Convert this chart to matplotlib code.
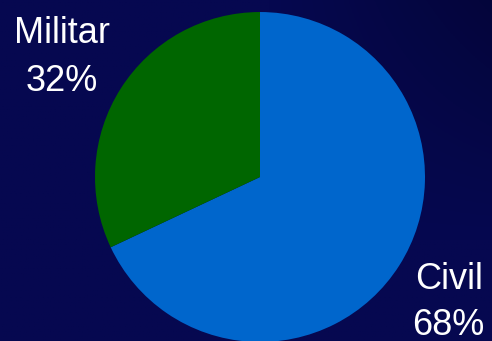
import numpy as np
import matplotlib.pyplot as plt

labels = ["Civil", "Militar"]
shares = [68, 32]
colors = ["#0066CC", "#006600"]

fig = plt.figure(figsize=(4.92, 3.41), dpi=100)

# background: dark navy with a slightly darker upper-right corner
bg = fig.add_axes([0, 0, 1, 1])
gx, gy = np.meshgrid(np.linspace(0, 1, 200), np.linspace(0, 1, 200))
shade = np.clip((gx - 0.55) * 1.6, 0, 1) * np.clip((gy - 0.3) * 1.4, 0, 1)
base = np.array([6, 8, 80]) / 255
dark = np.array([3, 4, 50]) / 255
img = base[None, None, :] * (1 - shade[..., None]) + dark[None, None, :] * shade[..., None]
bg.imshow(img, origin="lower", extent=[0, 1, 0, 1], aspect="auto")
bg.axis("off")

ax = fig.add_axes([95 / 492, -0.003, 330 / 492, 330 / 341])
ax.pie(shares, colors=colors, startangle=90, counterclock=False,
       wedgeprops=dict(linewidth=0))
ax.set_xlim(-1, 1)
ax.set_ylim(-1, 1)
ax.set_aspect("equal")
ax.axis("off")

font = dict(color="white", fontsize=26, family="Liberation Sans", ha="center", va="baseline")
fig.text(62 / 492, 1 - 43 / 341, labels[1], **font)
fig.text(62 / 492, 1 - 91 / 341, f"{shares[1]}%", **font)
fig.text(449 / 492, 1 - 289 / 341, labels[0], **font)
fig.text(448 / 492, 1 - 335 / 341, f"{shares[0]}%", **font)

fig.savefig("out.png", dpi=100)
